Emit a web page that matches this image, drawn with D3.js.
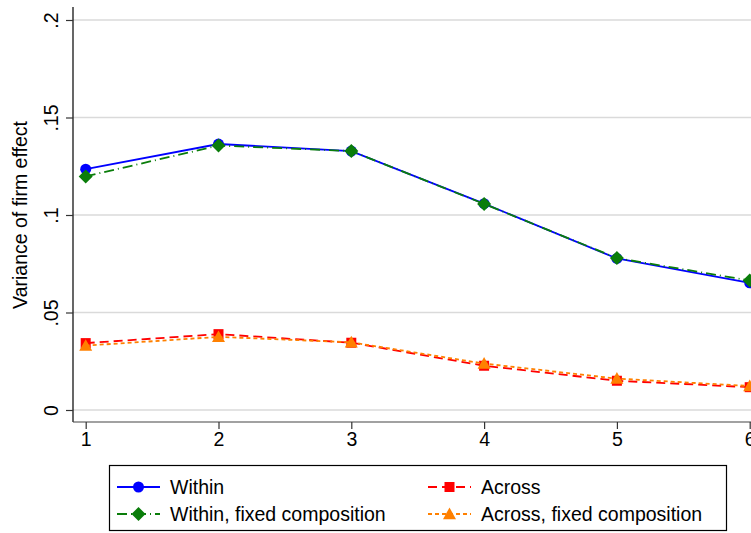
<!DOCTYPE html>
<html>
<head>
<meta charset="utf-8">
<script src="https://cdn.jsdelivr.net/npm/d3@7"></script>
<style>
  html, body { margin: 0; padding: 0; background: #fff; }
  svg { display: block; font-family: "Liberation Sans", Arial, Helvetica, sans-serif; }
</style>
</head>
<body>
<svg id="chart" width="751" height="533"></svg>
<script>
// Periods on the x axis
const periods = [1, 2, 3, 4, 5, 6];
// Variance of firm effect by series
const within      = [0.1235, 0.1364, 0.1328, 0.1058, 0.0777, 0.0652];
const withinFixed = [0.1198, 0.1356, 0.1328, 0.1057, 0.0779, 0.0664];
const across      = [0.0343, 0.0389, 0.0345, 0.0227, 0.0150, 0.0117];
const acrossFixed = [0.0330, 0.0375, 0.0347, 0.0238, 0.0161, 0.0123];
// Axis ticks
const yTicks = [0, 0.05, 0.1, 0.15, 0.2];
const yTickLabels = ["0", ".05", ".1", ".15", ".2"];
const xTicks = [1, 2, 3, 4, 5, 6];

const series = [
  { name: "Within", values: within, color: "#0000ff", dash: null, marker: "circle" },
  { name: "Within, fixed composition", values: withinFixed, color: "#0a7d0a", dash: "10,4,1,4", marker: "diamond" },
  { name: "Across", values: across, color: "#ff0000", dash: "9,5", marker: "square" },
  { name: "Across, fixed composition", values: acrossFixed, color: "#ff8000", dash: "4,3", marker: "triangle" }
];

const FONT = 19.5;
const svg = d3.select("#chart");

const x = d3.scaleLinear().domain([1, 6]).range([85.7, 749.7]);
const y = d3.scaleLinear().domain([0, 0.2]).range([410, 20]);

const plotLeft = 73, plotRight = 751, plotTop = 7, plotBottom = 422;

// Gridlines
svg.append("g")
  .selectAll("line")
  .data(yTicks)
  .join("line")
  .attr("x1", plotLeft).attr("x2", plotRight)
  .attr("y1", d => y(d)).attr("y2", d => y(d))
  .attr("stroke", "#dadada").attr("stroke-width", 1.3);

// Y axis
const yAxis = d3.axisLeft(y).tickValues(yTicks)
  .tickFormat((d, i) => yTickLabels[i]).tickSize(7).tickSizeOuter(0);
const gy = svg.append("g").attr("transform", `translate(${plotLeft},0)`).call(yAxis);
gy.select(".domain").attr("d", `M0,${plotTop}V${plotBottom}`).attr("stroke", "#000").attr("stroke-width", 1.2);
gy.selectAll(".tick line").attr("stroke", "#333").attr("stroke-width", 1.2);
gy.selectAll(".tick text")
  .attr("font-size", FONT).attr("fill", "#000")
  .attr("text-anchor", "middle")
  .attr("x", null).attr("dy", null)
  .attr("transform", "translate(-15,0) rotate(-90)");

// X axis
const xAxis = d3.axisBottom(x).tickValues(xTicks).tickFormat(d3.format("d")).tickSize(7).tickSizeOuter(0);
const gx = svg.append("g").attr("transform", `translate(0,${plotBottom})`).call(xAxis);
gx.select(".domain").attr("d", `M${plotLeft},0H${plotRight}`).attr("stroke", "#444").attr("stroke-width", 1.2);
gx.selectAll(".tick line").attr("stroke", "#333").attr("stroke-width", 1.2);
gx.selectAll(".tick text").attr("font-size", FONT).attr("fill", "#000").attr("y", 10).attr("dy", "0.71em");

// Y axis title
svg.append("text")
  .attr("transform", `translate(27,215) rotate(-90)`)
  .attr("text-anchor", "middle")
  .attr("font-size", FONT)
  .text("Variance of firm effect");

// Marker drawing helper
function drawMarker(g, type, cx, cy, color, scale = 1) {
  if (type === "circle") {
    g.append("circle").attr("cx", cx).attr("cy", cy).attr("r", 5.5 * scale).attr("fill", color);
  } else if (type === "diamond") {
    const s = 7 * scale;
    g.append("path").attr("d", `M${cx},${cy - s}L${cx + s},${cy}L${cx},${cy + s}L${cx - s},${cy}Z`).attr("fill", color);
  } else if (type === "square") {
    const s = 5 * scale;
    g.append("rect").attr("x", cx - s).attr("y", cy - s).attr("width", 2 * s).attr("height", 2 * s).attr("fill", color);
  } else if (type === "triangle") {
    const s = 6.5 * scale;
    g.append("path").attr("d", `M${cx},${cy - s}L${cx + s},${cy + s * 0.8}L${cx - s},${cy + s * 0.8}Z`).attr("fill", color);
  }
}

const line = d3.line().x((d, i) => x(periods[i])).y(d => y(d));

// Draw series: lines and markers
series.forEach(s => {
  const g = svg.append("g");
  g.append("path")
    .datum(s.values)
    .attr("d", line)
    .attr("fill", "none")
    .attr("stroke", s.color)
    .attr("stroke-width", 1.8)
    .attr("stroke-dasharray", s.dash);
  s.values.forEach((v, i) => drawMarker(g, s.marker, x(periods[i]), y(v), s.color));
});

// Legend
const legend = svg.append("g");
legend.append("rect")
  .attr("x", 109.5).attr("y", 465.5).attr("width", 617).attr("height", 65)
  .attr("fill", "#fff").attr("stroke", "#000").attr("stroke-width", 1.2);

const legendPos = [
  { lx: 117, tx: 170, ty: 487 },
  { lx: 117, tx: 170, ty: 514 },
  { lx: 428, tx: 481, ty: 487 },
  { lx: 428, tx: 481, ty: 514 }
];
series.forEach((s, i) => {
  const p = legendPos[i];
  const g = legend.append("g");
  g.append("line")
    .attr("x1", p.lx).attr("x2", p.lx + 43)
    .attr("y1", p.ty).attr("y2", p.ty)
    .attr("stroke", s.color).attr("stroke-width", 1.8)
    .attr("stroke-dasharray", s.dash);
  drawMarker(g, s.marker, p.lx + 21.5, p.ty, s.color);
  g.append("text")
    .attr("x", p.tx).attr("y", p.ty)
    .attr("dy", "0.35em")
    .attr("font-size", FONT)
    .text(s.name);
});
</script>
</body>
</html>
